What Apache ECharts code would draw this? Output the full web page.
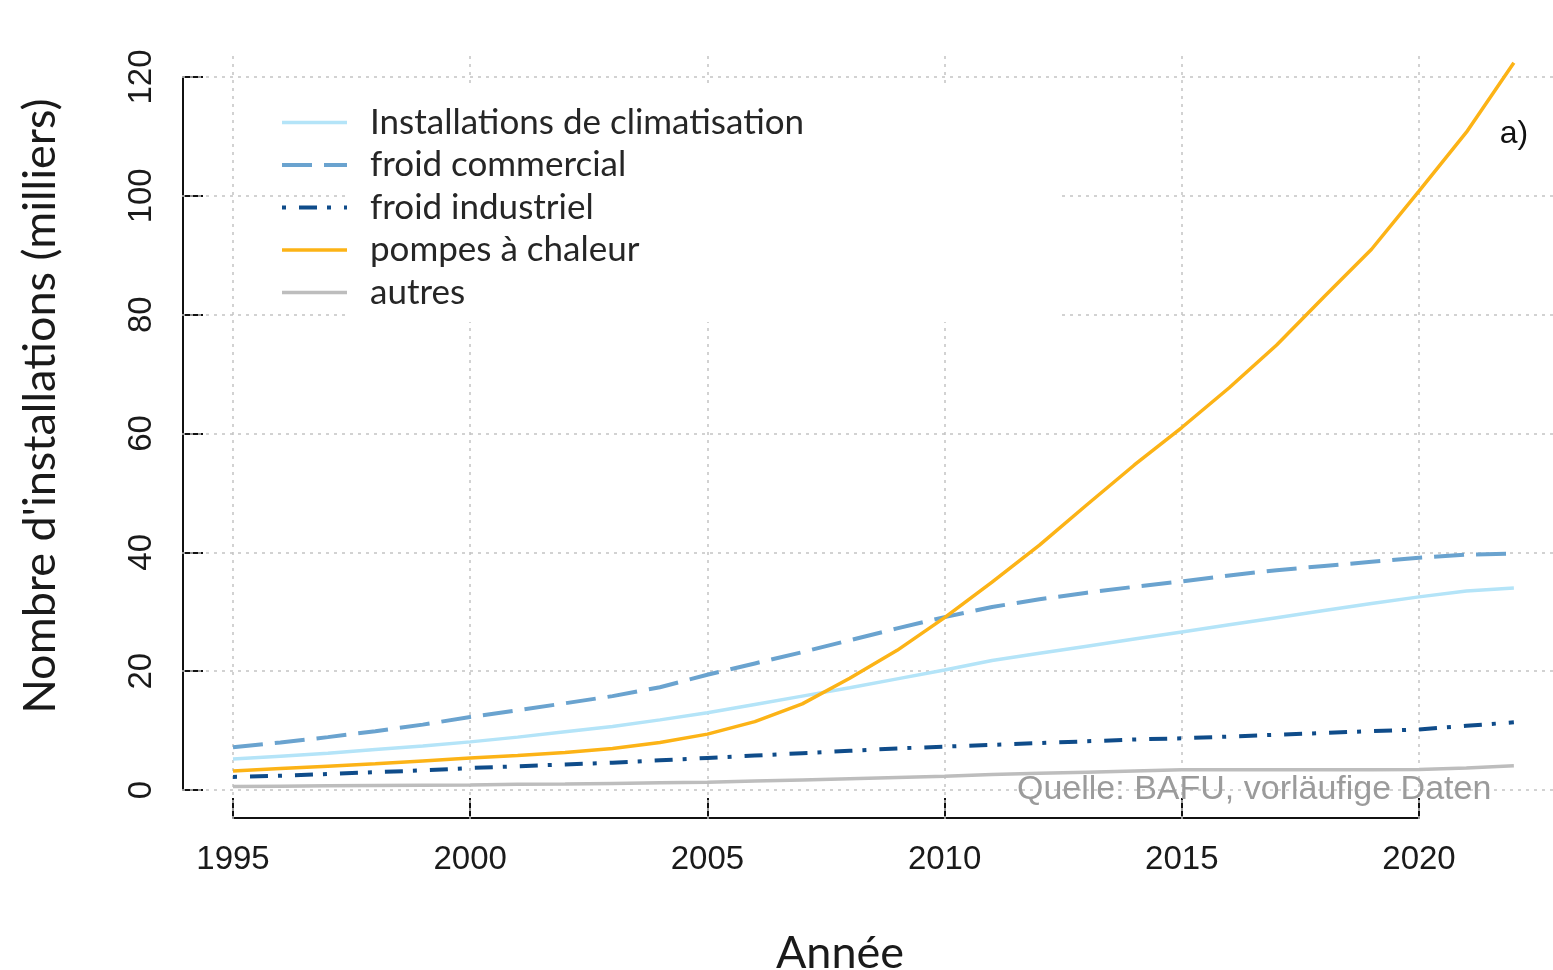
<!DOCTYPE html>
<html>
<head>
<meta charset="utf-8">
<script src="https://cdn.jsdelivr.net/npm/echarts@6/dist/echarts.min.js"></script>
<style>
  html, body { margin: 0; padding: 0; background: #ffffff; }
  #chart { width: 1553px; height: 970px; }
</style>
</head>
<body>
<div id="chart"></div>
<script>
// Installed refrigeration / heat-pump units in thousands, 1995–2022
const years = [1995, 1996, 1997, 1998, 1999, 2000, 2001, 2002, 2003, 2004,
               2005, 2006, 2007, 2008, 2009, 2010, 2011, 2012, 2013, 2014,
               2015, 2016, 2017, 2018, 2019, 2020, 2021, 2022];

const climatisation = [5.2, 5.7, 6.2, 6.8, 7.4, 8.1, 8.9, 9.8, 10.7, 11.8,
                       13.0, 14.4, 15.8, 17.2, 18.7, 20.2, 21.8, 23.0, 24.2, 25.4,
                       26.6, 27.8, 29.0, 30.2, 31.4, 32.5, 33.5, 34.0];

const froidCommercial = [7.2, 8.0, 8.9, 9.9, 11.0, 12.3, 13.4, 14.6, 15.8, 17.3,
                         19.4, 21.3, 23.2, 25.2, 27.2, 29.1, 30.8, 32.1, 33.2, 34.2,
                         35.1, 36.1, 37.0, 37.7, 38.4, 39.1, 39.6, 39.8];

const froidIndustriel = [2.2, 2.4, 2.7, 3.0, 3.3, 3.7, 4.0, 4.3, 4.6, 5.0,
                         5.4, 5.8, 6.2, 6.6, 7.0, 7.3, 7.6, 7.9, 8.2, 8.5,
                         8.7, 9.0, 9.3, 9.6, 9.9, 10.2, 10.8, 11.4];

const pompesChaleur = [3.2, 3.6, 4.0, 4.4, 4.9, 5.4, 5.8, 6.3, 7.0, 8.0,
                       9.4, 11.5, 14.5, 18.8, 23.5, 29.0, 35.0, 41.2, 48.0, 54.7,
                       61.0, 67.7, 74.9, 83.0, 91.0, 100.8, 110.7, 122.4];

const autres = [0.6, 0.65, 0.7, 0.75, 0.8, 0.85, 0.95, 1.0, 1.1, 1.2,
                1.3, 1.5, 1.7, 1.9, 2.1, 2.3, 2.6, 2.8, 3.0, 3.2,
                3.4, 3.4, 3.4, 3.4, 3.4, 3.45, 3.7, 4.1];

const seriesNames = ['Installations de climatisation', 'froid commercial',
                     'froid industriel', 'pompes à chaleur', 'autres'];

const xTicks = [1995, 2000, 2005, 2010, 2015, 2020];
const yTicks = [0, 20, 40, 60, 80, 100, 120];

const pairs = vals => years.map((y, i) => [y, vals[i]]);

const chart = echarts.init(document.getElementById('chart'), null, { renderer: 'canvas' });

const axisColor = '#111111';
const labelFont = 'Liberation Sans, Arial, sans-serif';
const textFont = 'Lato, "Open Sans", sans-serif';

const lineSeries = (name, vals, color, width, type, dashOffset) => ({
  name: name,
  type: 'line',
  xAxisIndex: 0,
  yAxisIndex: 0,
  data: pairs(vals),
  symbol: 'none',
  smooth: false,
  z: 3,
  lineStyle: { color: color, width: width, type: type, dashOffset: dashOffset || 0, cap: 'butt' },
  itemStyle: { color: color },
  emphasis: { disabled: true }
});

chart.setOption({
  animation: false,
  backgroundColor: '#ffffff',
  grid: [
    // full plotting region (data + dotted grid), running to the right edge
    { left: 182, top: 53, width: 1371, height: 766 },
    // region spanned by the drawn axes
    { left: 233, top: 77, width: 1186, height: 713 }
  ],
  xAxis: [
    { gridIndex: 0, type: 'value', min: 1993.925, max: 2022.825, show: false },
    {
      gridIndex: 1, type: 'value', min: 1995, max: 2020, interval: 5,
      position: 'bottom', offset: 28,
      axisLine: { show: true, onZero: false, lineStyle: { color: axisColor, width: 2 } },
      axisTick: { show: true, inside: true, length: 20, lineStyle: { color: axisColor, width: 2 } },
      axisLabel: {
        margin: 25, fontSize: 33, fontFamily: labelFont, color: '#1a1a1a',
        formatter: v => String(v)
      },
      splitLine: { show: false }
    }
  ],
  yAxis: [
    { gridIndex: 0, type: 'value', min: -4.88, max: 124.03, show: false },
    {
      gridIndex: 1, type: 'value', min: 0, max: 120, interval: 20,
      position: 'left', offset: 50,
      axisLine: { show: true, onZero: false, lineStyle: { color: axisColor, width: 2 } },
      axisTick: { show: true, inside: true, length: 20, lineStyle: { color: axisColor, width: 2 } },
      axisLabel: {
        margin: 25, rotate: 90, fontSize: 33, fontFamily: labelFont, color: '#1a1a1a',
        formatter: v => String(v)
      },
      splitLine: { show: false }
    }
  ],
  legend: {
    data: seriesNames,
    orient: 'vertical',
    left: 280,
    top: 105,
    padding: 0,
    itemWidth: 65,
    itemHeight: 14,
    itemGap: 7.5,
    selectedMode: false,
    itemStyle: { opacity: 0 },
    lineStyle: { width: 'inherit' },
    textStyle: {
      fontFamily: textFont, fontSize: 35, color: '#262626',
      padding: [0, 0, 0, 18]
    }
  },
  series: [
    {
      name: 'grille',
      type: 'line',
      xAxisIndex: 0,
      yAxisIndex: 0,
      data: [],
      silent: true,
      z: 1,
      markLine: {
        silent: true,
        z: 1,
        symbol: ['none', 'none'],
        label: { show: false },
        emphasis: { disabled: true },
        lineStyle: { color: '#c4c4c4', width: 1.5, type: [3, 5] },
        data: [
          ...yTicks.map(v => ({ yAxis: v })),
          ...xTicks.map(v => ({ xAxis: v }))
        ]
      }
    },
    lineSeries(seriesNames[0], climatisation, '#b4e4f8', 3.5, 'solid'),
    lineSeries(seriesNames[1], froidCommercial, '#6aa3cf', 4, [30, 12]),
    lineSeries(seriesNames[2], froidIndustriel, '#0f4c8a', 4, [18, 10, 4, 13], 28),
    lineSeries(seriesNames[3], pompesChaleur, '#fcb316', 3.5, 'solid'),
    lineSeries(seriesNames[4], autres, '#bdbdbd', 3.5, 'solid')
  ],
  graphic: [
    {
      type: 'rect', z: 3, silent: true,
      shape: { x: 347, y: 87, width: 715, height: 235 },
      style: { fill: '#ffffff' }
    },
    {
      type: 'text', z: 10, silent: true,
      x: 40, y: 406, rotation: Math.PI / 2,
      style: {
        text: "Nombre d'installations (milliers)",
        font: '45px ' + textFont, fill: '#1a1a1a',
        align: 'center', verticalAlign: 'middle'
      }
    },
    {
      type: 'text', z: 10, silent: true,
      x: 840, y: 953,
      style: {
        text: 'Année', font: '45px ' + textFont, fill: '#1a1a1a',
        align: 'center', verticalAlign: 'middle'
      }
    },
    {
      type: 'text', z: 10, silent: true,
      x: 1017, y: 790,
      style: {
        text: 'Quelle: BAFU, vorläufige Daten', font: '34px ' + labelFont, fill: '#9b9b9b',
        align: 'left', verticalAlign: 'middle'
      }
    },
    {
      type: 'text', z: 10, silent: true,
      x: 1514, y: 134,
      style: {
        text: 'a)', font: '32px ' + labelFont, fill: '#111111',
        align: 'center', verticalAlign: 'middle'
      }
    }
  ]
});
</script>
</body>
</html>
